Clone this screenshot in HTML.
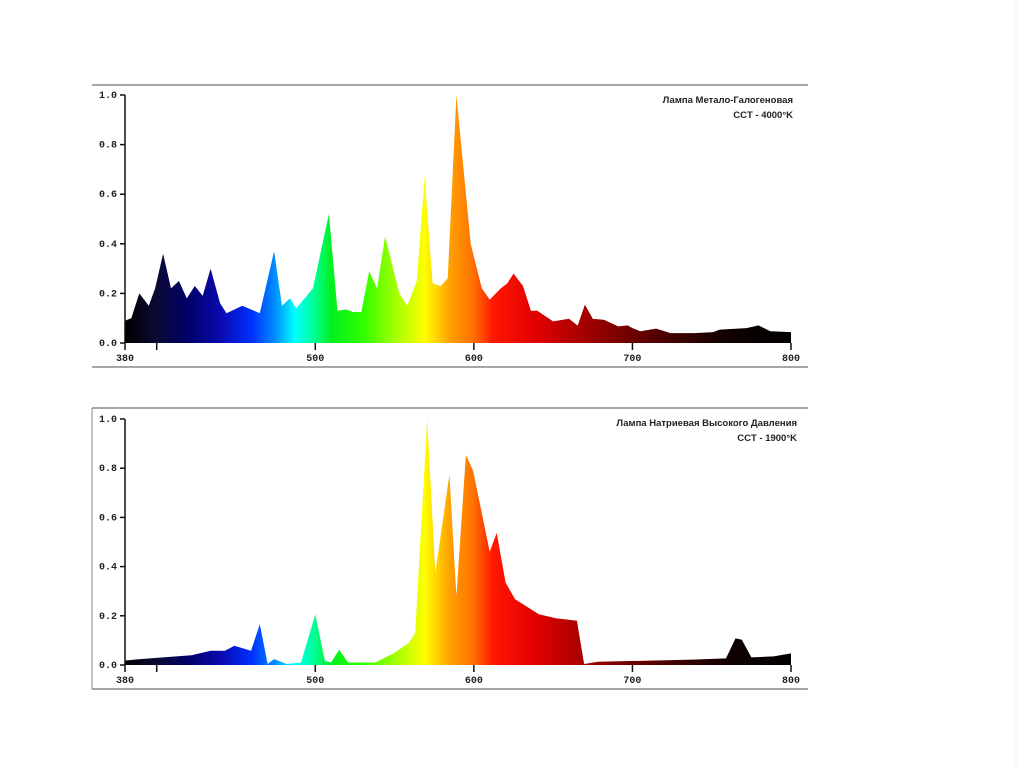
<!DOCTYPE html>
<html><head><meta charset="utf-8">
<style>
html,body{margin:0;padding:0;background:#fff;}
svg{display:block;}
text{font-family:"Liberation Mono",monospace;font-weight:bold;font-size:10px;fill:#222;}
.ttl{font-family:"Liberation Sans","DejaVu Sans",sans-serif;font-size:9.5px;font-weight:bold;fill:#222;}
</style></head>
<body>
<svg id="chart" width="1024" height="767" viewBox="0 0 1024 767">
<defs>
<linearGradient id="specTop" gradientUnits="userSpaceOnUse" x1="125" y1="0" x2="791" y2="0"></linearGradient>
<linearGradient id="specBot" gradientUnits="userSpaceOnUse" x1="125" y1="0" x2="791" y2="0"></linearGradient>
</defs>
<line x1="1016" y1="0" x2="1016" y2="767" stroke="#f0f0f0" stroke-width="1"/>
</svg>
<script>
// ---- data ----
const xTicks = [380, 500, 600, 700, 800];
const yTicks = [0, 0.2, 0.4, 0.6, 0.8, 1.0];
const mhWavelengths = [380,384,389,395,399,404,409,414,419,424,429,434,440,444,454,465,474,479,484,488,498.5,508.6,514,519.5,524,529,534,539,544,553,558,564,569,574,579,583.5,589,598,605,610,617,621,625,631,636,640,650,660,665.5,670,675,682,691,697,700,705,715,724,739,751,755,772,779.5,787,800];
const mhValues = [0.09,0.1,0.2,0.15,0.22,0.36,0.22,0.25,0.18,0.23,0.19,0.3,0.16,0.12,0.15,0.12,0.37,0.15,0.18,0.14,0.22,0.52,0.13,0.135,0.125,0.125,0.29,0.22,0.43,0.2,0.15,0.25,0.67,0.24,0.23,0.26,1.0,0.4,0.22,0.175,0.22,0.24,0.28,0.23,0.13,0.13,0.087,0.098,0.07,0.155,0.097,0.094,0.067,0.071,0.06,0.047,0.058,0.04,0.04,0.044,0.054,0.06,0.071,0.047,0.044];
const hpsWavelengths = [380,389.5,404,422,434,443,449,459.5,465,470,474,482,491,500,506,510,515,520.6,538,550,559,563,570.6,575.7,584.6,589,595,599.5,610,614.4,620,626,641,651.7,665,669.5,678.5,738,759,765,769,775,789,800];
const hpsValues = [0.018,0.024,0.031,0.04,0.058,0.058,0.078,0.058,0.166,0.004,0.024,0.004,0.01,0.206,0.017,0.01,0.062,0.01,0.01,0.05,0.09,0.13,1.0,0.375,0.773,0.28,0.854,0.79,0.46,0.537,0.335,0.267,0.206,0.19,0.18,0.004,0.013,0.022,0.027,0.108,0.103,0.031,0.035,0.047];
const topTitle = ["Лампа Метало-Галогеновая","CCT - 4000°K"];
const botTitle = ["Лампа Натриевая Высокого Давления","CCT - 1900°K"];

const NS="http://www.w3.org/2000/svg";
const svg=document.getElementById('chart');
function mk(tag,attrs,parent){const e=document.createElementNS(NS,tag);for(const k in attrs)e.setAttribute(k,attrs[k]);(parent||svg).appendChild(e);return e;}

const gradStops=[[380,'#000000'],[400,'#0a0a35'],[420,'#00006a'],[440,'#0a0ab0'],[460,'#0030ff'],[475,'#0090ff'],[487,'#00ffff'],[500,'#00ff90'],[510,'#00f020'],[530,'#30ff00'],[550,'#a0ff00'],[569,'#ffff00'],[585,'#ffa000'],[600,'#ff7000'],[612,'#ff1800'],[640,'#e00000'],[680,'#900000'],[720,'#4a0000'],[760,'#100000'],[800,'#000000']];
['specTop','specBot'].forEach(id=>{
  const g=document.getElementById(id);
  gradStops.forEach(s=>mk('stop',{offset:((s[0]-380)/420).toFixed(4),'stop-color':s[1]},g));
});

function drawChart(cfg){
  const xS=nm=>cfg.x0+(nm-380)/420*(cfg.x1-cfg.x0);
  const yS=v=>cfg.y0-v*(cfg.y0-cfg.y1);
  const ft=mk('line',{x1:92,x2:808,y1:cfg.ft,y2:cfg.ft,stroke:'#888','stroke-width':1.5});
  
  
  const fb=mk('line',{x1:92,x2:808,y1:cfg.fb,y2:cfg.fb,stroke:'#888','stroke-width':1.5});
  
  
  if(cfg.sides){
    const fl=mk('line',{x1:92,x2:92,y1:cfg.ft,y2:cfg.fb,stroke:'#888','stroke-width':1});
    
    
  }
  let d='M'+xS(cfg.wl[0])+','+yS(0);
  cfg.wl.forEach((w,i)=>{d+=' L'+xS(w).toFixed(1)+','+yS(cfg.vals[i]).toFixed(1);});
  d+=' L'+xS(cfg.wl[cfg.wl.length-1])+','+yS(0)+' Z';
  const p=mk('path',{d:d,fill:'url(#'+cfg.grad+')'});
  
  
  const ya=mk('line',{x1:cfg.x0,x2:cfg.x0,y1:cfg.y1,y2:cfg.y0,stroke:'#111','stroke-width':1.5});
  
  
  yTicks.forEach(v=>{
    mk('line',{x1:cfg.x0-5,x2:cfg.x0,y1:yS(v),y2:yS(v),stroke:'#111','stroke-width':1.5});
    const t=mk('text',{x:cfg.x0-8,y:yS(v)+3,'text-anchor':'end'});
    t.textContent=v.toFixed(1);
    
    
  });
  mk('line',{x1:xS(400),x2:xS(400),y1:cfg.y0,y2:cfg.y0+7,stroke:'#111','stroke-width':1.5});
  xTicks.forEach(v=>{
    mk('line',{x1:xS(v),x2:xS(v),y1:cfg.y0,y2:cfg.y0+7,stroke:'#111','stroke-width':1.5});
    const t=mk('text',{x:xS(v),y:cfg.y0+18,'text-anchor':'middle'});
    t.textContent=String(v);
    
    
  });
  cfg.title.forEach((s,i)=>{
    const t=mk('text',{x:cfg.tx,y:cfg.ty+i*15,'text-anchor':'end','class':'ttl'});
    t.textContent=s;
    
    
  });
}
drawChart({name:'metal-halide',wl:mhWavelengths,vals:mhValues,grad:'specTop',x0:125,x1:791,y0:343,y1:95,ft:85,fb:367,sides:false,title:topTitle,tx:793,ty:103});
drawChart({name:'sodium-hps',wl:hpsWavelengths,vals:hpsValues,grad:'specBot',x0:125,x1:791,y0:665,y1:419,ft:408,fb:689,sides:true,title:botTitle,tx:797,ty:426});
</script>
</body></html>
